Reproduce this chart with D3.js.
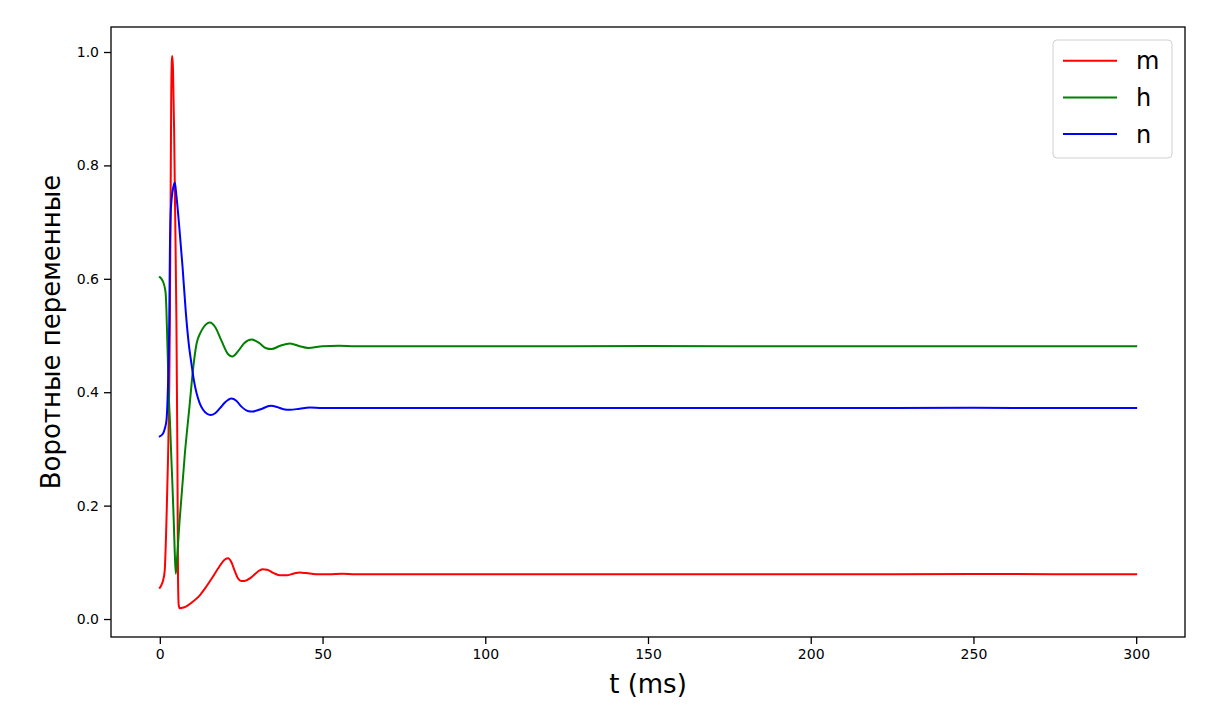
<!DOCTYPE html>
<html>
<head>
<meta charset="utf-8">
<script src="https://cdn.jsdelivr.net/npm/d3@7"></script>
<style>
  body { margin: 0; background: #fff; }
  svg { display: block; }
  text { font-family: "DejaVu Sans", sans-serif; fill: #000; }
</style>
</head>
<body>
<svg id="chart" width="1210" height="715"></svg>
<script>
// ---- data ----
const seriesNames = ["m", "h", "n"];
const seriesColors = ["#ff0000", "#008000", "#0000ff"];

const mData = [
  [0,0.055],[0.5,0.06],[1,0.068],[1.5,0.085],[2.05,0.175],[2.55,0.29],[2.9,0.41],[3.1,0.527],
  [3.3,0.72],[3.5,0.92],[3.7,0.985],[3.85,0.993],[4.05,0.97],[4.4,0.86],[4.7,0.72],[5.1,0.527],
  [5.4,0.29],[5.6,0.07],[5.8,0.025],[6.1,0.019],[7,0.02],[8,0.022],[10,0.03],[12,0.04],
  [14,0.055],[16,0.072],[18,0.09],[20,0.105],[21,0.107],[22,0.1],[23,0.085],[24,0.072],
  [25,0.067],[26,0.067],[28,0.073],[30,0.083],[31.5,0.088],[33,0.087],[35,0.081],[37,0.077],
  [39,0.077],[41,0.08],[43,0.082],[45,0.081],[48,0.079],[52,0.079],[56,0.08],[60,0.079],
  [75,0.079],[100,0.079],[125,0.079],[150,0.079],[175,0.079],[200,0.079],[225,0.079],
  [250,0.0795],[275,0.079],[300,0.079]
];

const hData = [
  [0,0.603],[0.5,0.6],[1,0.595],[1.5,0.585],[1.8,0.574],[2.0,0.55],[2.3,0.49],[2.6,0.43],
  [2.9,0.374],[3.1,0.351],[3.5,0.29],[3.9,0.233],[4.3,0.17],[4.6,0.116],[4.9,0.08],[5.2,0.1],
  [6.1,0.175],[7.7,0.292],[9.2,0.38],[10.2,0.44],[11.3,0.486],[12.5,0.505],[13.5,0.515],
  [15.4,0.523],[17,0.515],[19,0.49],[21,0.467],[22.3,0.463],[24,0.472],[26,0.487],[28.2,0.493],
  [30.5,0.487],[32.5,0.478],[34.3,0.476],[37,0.482],[40,0.486],[43,0.481],[45.6,0.478],
  [50,0.481],[55,0.482],[60,0.481],[75,0.481],[100,0.481],[125,0.481],[150,0.4815],[175,0.481],
  [200,0.481],[225,0.481],[250,0.481],[275,0.481],[300,0.481]
];

const nData = [
  [0,0.322],[1,0.327],[1.5,0.335],[2.05,0.351],[2.5,0.41],[2.9,0.527],[3.1,0.65],[3.3,0.71],
  [3.7,0.745],[4.2,0.763],[4.6,0.77],[5.0,0.752],[6,0.69],[7,0.62],[8,0.54],[9,0.48],
  [9.7,0.451],[10.5,0.42],[11.3,0.398],[12.3,0.38],[13.3,0.369],[14.5,0.362],[15.6,0.36],
  [17,0.363],[18.5,0.372],[20,0.382],[22,0.389],[23.5,0.385],[25,0.375],[27,0.367],[28.5,0.366],
  [31,0.37],[34,0.376],[36,0.374],[38,0.37],[40,0.369],[43,0.371],[46,0.373],[50,0.372],
  [60,0.372],[75,0.372],[100,0.372],[125,0.372],[150,0.372],[175,0.372],[200,0.372],
  [225,0.372],[250,0.3725],[275,0.372],[300,0.372]
];

const allSeries = [mData, hData, nData];

const xTicks = [0, 50, 100, 150, 200, 250, 300];
const yTicks = [0.0, 0.2, 0.4, 0.6, 0.8, 1.0];
const xLabel = "t (ms)";
const yLabel = "Воротные переменные";

// ---- layout ----
const svg = d3.select("#chart");
const plot = { left: 111, right: 1185, top: 27, bottom: 637 };

const x = d3.scaleLinear().domain([-15, 315]).range([plot.left, plot.right]);
const y = d3.scaleLinear().domain([-0.0317, 1.0441]).range([plot.bottom, plot.top]);

// lines
const line = d3.line()
  .x(d => x(d[0]))
  .y(d => y(d[1]))
  .curve(d3.curveMonotoneX);

svg.append("clipPath").attr("id", "clip")
  .append("rect")
  .attr("x", plot.left).attr("y", plot.top)
  .attr("width", plot.right - plot.left).attr("height", plot.bottom - plot.top);

svg.append("g").attr("clip-path", "url(#clip)")
  .selectAll("path.series")
  .data(allSeries)
  .join("path")
  .attr("class", "series")
  .attr("d", line)
  .attr("fill", "none")
  .attr("stroke", (d, i) => seriesColors[i])
  .attr("stroke-width", 2)
  .attr("stroke-linejoin", "round")
  .attr("stroke-linecap", "square");

// axes
const xAxis = d3.axisBottom(x).tickValues(xTicks).tickSize(7).tickPadding(5)
  .tickFormat(d3.format("d"));
const yAxis = d3.axisLeft(y).tickValues(yTicks).tickSize(7).tickPadding(5)
  .tickFormat(d3.format(".1f"));

const gx = svg.append("g").attr("transform", `translate(0,${plot.bottom})`).call(xAxis);
const gy = svg.append("g").attr("transform", `translate(${plot.left},0)`).call(yAxis);

[gx, gy].forEach(g => {
  g.attr("font-size", null).attr("font-family", null);
  g.select(".domain").remove();
  g.selectAll(".tick line").attr("stroke", "#000").attr("stroke-width", 1.3);
  g.selectAll(".tick text")
    .style("font-family", "'DejaVu Sans', sans-serif")
    .style("font-size", "14px")
    .attr("fill", "#222");
});

// frame
svg.append("rect")
  .attr("x", plot.left).attr("y", plot.top)
  .attr("width", plot.right - plot.left).attr("height", plot.bottom - plot.top)
  .attr("fill", "none").attr("stroke", "#000").attr("stroke-width", 1.3);

// axis labels
svg.append("text")
  .attr("x", (plot.left + plot.right) / 2)
  .attr("y", 693)
  .attr("text-anchor", "middle")
  .style("font-size", "26px")
  .text(xLabel);

svg.append("text")
  .attr("transform", `translate(60,${(plot.top + plot.bottom) / 2}) rotate(-90)`)
  .attr("text-anchor", "middle")
  .style("font-size", "26px")
  .text(yLabel);

// legend
const legend = svg.append("g").attr("transform", "translate(1053,40)");
legend.append("rect")
  .attr("x", 0).attr("y", 0).attr("width", 119).attr("height", 118)
  .attr("rx", 4).attr("ry", 4)
  .attr("fill", "#fff").attr("fill-opacity", 0.8)
  .attr("stroke", "#d0d0d0").attr("stroke-width", 1);

const items = legend.selectAll("g.item")
  .data(seriesNames)
  .join("g")
  .attr("class", "item")
  .attr("transform", (d, i) => `translate(0,${20.7 + i * 36.7})`);

items.append("line")
  .attr("x1", 10).attr("x2", 64)
  .attr("stroke", (d, i) => seriesColors[i])
  .attr("stroke-width", 2);

items.append("text")
  .attr("x", 83).attr("y", 0)
  .attr("dy", "0.36em")
  .style("font-size", "24px")
  .text(d => d);
</script>
</body>
</html>
